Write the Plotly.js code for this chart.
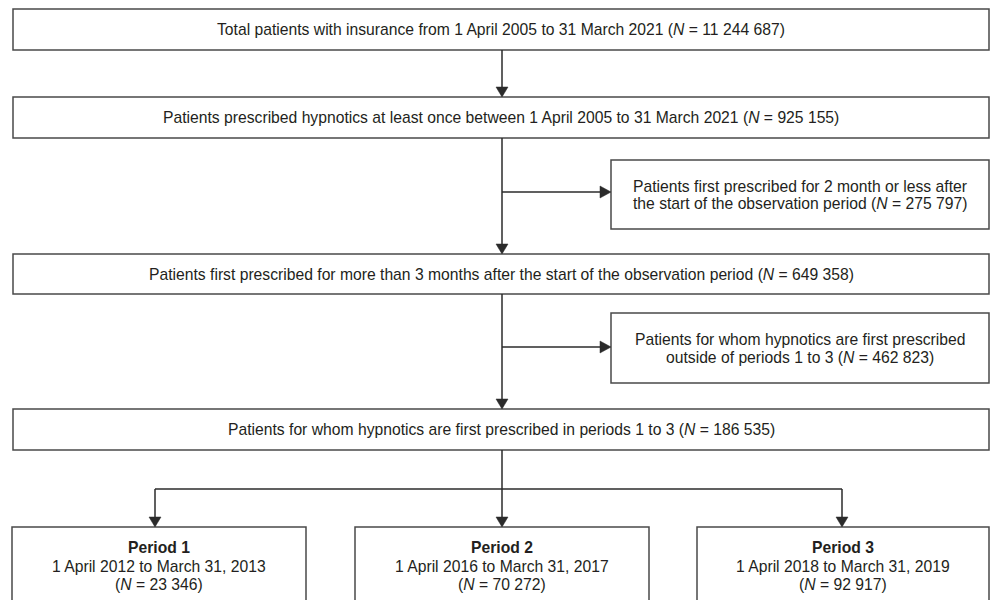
<!DOCTYPE html>
<html>
<head>
<meta charset="utf-8">
<script src="https://cdn.plot.ly/plotly-3.0.1.min.js"></script>
<style>html,body{margin:0;padding:0;background:#fff;}#chart{width:990px;height:600px;}</style>
</head>
<body>
<div id="chart"></div>
<script>
// ---- DATA ----
const mainLabels = [
  "Total patients with insurance from 1 April 2005 to 31 March 2021",
  "Patients prescribed hypnotics at least once between 1 April 2005 to 31 March 2021",
  "Patients first prescribed for more than 3 months after the start of the observation period",
  "Patients for whom hypnotics are first prescribed in periods 1 to 3"
];
const mainCounts = [11244687, 925155, 649358, 186535];
const excludedLines1 = [
  "Patients first prescribed for 2 month or less after",
  "Patients for whom hypnotics are first prescribed"
];
const excludedLines2 = [
  "the start of the observation period",
  "outside of periods 1 to 3"
];
const excludedCounts = [275797, 462823];
const periodNames = ["Period 1", "Period 2", "Period 3"];
const periodRanges = [
  "1 April 2012 to March 31, 2013",
  "1 April 2016 to March 31, 2017",
  "1 April 2018 to March 31, 2019"
];
const periodCounts = [23346, 70272, 92917];

// ---- LAYOUT GEOMETRY (positions / styles) ----
const geom = {
  main: [[13, 989, 9, 50], [13, 989, 97, 138], [13, 989, 254, 294], [13, 989, 409, 450]],
  side: [[611, 989, 160, 229], [611, 989, 313, 383]],
  period: [[12, 306, 527, 640], [355, 649, 527, 640], [697, 989, 527, 640]],
  trunkX: 502,
  sideY: [192, 347],
  splitY: 489,
  periodArrowX: [155, 502, 842]
};
const lineColor = "#2b2b2b";
const boxColor = "#4a4a4a";
const textColor = "#231f20";
const fontFam = "Liberation Sans, Arial, Helvetica, sans-serif";
const fs = 15.7;

function fmt(n) { return String(n).replace(/\B(?=(\d{3})+(?!\d))/g, " "); }

const shapes = [];
const annotations = [];

function rect(b) {
  shapes.push({type: "rect", xref: "x", yref: "y", x0: b[0], x1: b[1], y0: b[2], y1: b[3],
    line: {color: boxColor, width: 1.5}, fillcolor: "rgba(0,0,0,0)"});
}
function seg(x0, y0, x1, y1) {
  shapes.push({type: "line", xref: "x", yref: "y", x0: x0, y0: y0, x1: x1, y1: y1,
    line: {color: lineColor, width: 1.5}});
}
function headDown(x, y) {
  shapes.push({type: "path", xref: "x", yref: "y",
    path: `M ${x - 6} ${y - 10} L ${x + 6} ${y - 10} L ${x} ${y} Z`,
    fillcolor: lineColor, line: {color: lineColor, width: 0.5}});
}
function headRight(x, y) {
  shapes.push({type: "path", xref: "x", yref: "y",
    path: `M ${x - 11} ${y - 6} L ${x - 11} ${y + 6} L ${x} ${y} Z`,
    fillcolor: lineColor, line: {color: lineColor, width: 0.5}});
}
function txt(x, y, t, bold) {
  annotations.push({xref: "x", yref: "y", x: x, y: y, text: bold ? "<b>" + t + "</b>" : t,
    showarrow: false, xanchor: "center", yanchor: "middle",
    font: {family: fontFam, size: fs, color: textColor}});
}

// main boxes
geom.main.forEach((b, i) => {
  rect(b);
  txt((b[0] + b[1]) / 2, (b[2] + b[3]) / 2, mainLabels[i] + " (<i>N</i> = " + fmt(mainCounts[i]) + ")");
});
// side (excluded) boxes
geom.side.forEach((b, i) => {
  rect(b);
  const cy = (b[2] + b[3]) / 2;
  txt((b[0] + b[1]) / 2, cy - 8.5, excludedLines1[i]);
  txt((b[0] + b[1]) / 2, cy + 9, excludedLines2[i] + " (<i>N</i> = " + fmt(excludedCounts[i]) + ")");
});
// period boxes
geom.period.forEach((b, i) => {
  rect(b);
  const cx = (b[0] + b[1]) / 2;
  txt(cx, 547.5, periodNames[i], true);
  txt(cx, 566, periodRanges[i]);
  txt(cx, 584.5, "(<i>N</i> = " + fmt(periodCounts[i]) + ")");
});

// connectors
const X = geom.trunkX;
for (let i = 0; i < 3; i++) {
  const yTop = geom.main[i][3], yBot = geom.main[i + 1][2];
  seg(X, yTop, X, yBot - 9);
  headDown(X, yBot);
  if (i > 0) {
    const sy = geom.sideY[i - 1];
    seg(X, sy, geom.side[i - 1][0] - 10, sy);
    headRight(geom.side[i - 1][0], sy);
  }
}
seg(X, geom.main[3][3], X, geom.period[1][2] - 9);
seg(geom.periodArrowX[0], geom.splitY, geom.periodArrowX[2], geom.splitY);
geom.periodArrowX.forEach((px, i) => {
  if (px !== X) seg(px, geom.splitY, px, geom.period[i][2] - 9);
  headDown(px, geom.period[i][2]);
});

const layout = {
  width: 990, height: 600,
  margin: {l: 0, r: 0, t: 0, b: 0},
  paper_bgcolor: "#ffffff", plot_bgcolor: "#ffffff",
  xaxis: {range: [0, 990], visible: false, fixedrange: true},
  yaxis: {range: [600, 0], visible: false, fixedrange: true},
  showlegend: false,
  shapes: shapes,
  annotations: annotations
};
Plotly.newPlot("chart", [{x: [], y: [], type: "scatter", mode: "markers", hoverinfo: "skip"}], layout, {staticPlot: true, displayModeBar: false});
</script>
</body>
</html>
